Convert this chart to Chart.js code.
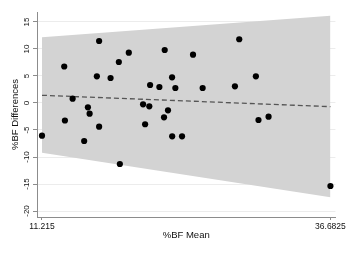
<!DOCTYPE html>
<html><head><meta charset="utf-8">
<script src="https://cdn.jsdelivr.net/npm/chart.js@4/dist/chart.umd.min.js"></script>
<style>html,body{margin:0;padding:0;background:#fff}canvas{display:block}</style>
</head><body>
<canvas id="c" width="348" height="254"></canvas>
<script>
// %BF Mean (x) and %BF Differences (y) of each observation
const meanX = [11.215, 13.18, 13.24, 13.92, 14.94, 15.27, 15.42, 16.06, 16.26, 16.26,
  17.27, 18.00, 18.09, 18.88, 20.14, 20.32, 20.69, 20.76, 21.58, 22.05,
  21.99, 22.34, 22.70, 22.71, 22.99, 23.58, 24.55, 25.40, 28.25, 28.63,
  30.10, 30.33, 31.22, 36.6825];
const diffY = [-6.06, 6.76, -3.24, 0.80, -7.04, -0.80, -1.98, 4.94, 11.48, -4.39,
  4.63, 7.59, -11.30, 9.31, -0.24, -3.94, -0.61, 3.33, 2.96, 9.81,
  -2.65, -1.35, 4.76, -6.17, 2.78, -6.17, 8.94, 2.78, 3.09, 11.80,
  4.94, -3.15, -2.54, -15.37];
// fitted regression line and prediction band at the ends of the x range
const lineX = [11.215, 36.6825];
const fitY = [1.43, -0.68];
const bandUpper = [12.16, 16.17];
const bandLower = [-9.20, -17.46];
// axis ticks
const xTickValues = [11.215, 36.6825];
const xTickLabels = ['11.215', '36.6825'];
const yTickValues = [-20, -15, -10, -5, 0, 5, 10, 15];

const pts = (xs, ys) => xs.map((x, i) => ({x: x, y: ys[i]}));
const FONT = "'Liberation Sans', Arial, Helvetica, sans-serif";
const AXIS = '#8c8c8c';

new Chart(document.getElementById('c'), {
  type: 'scatter',
  data: {
    datasets: [
      { data: pts(meanX, diffY), backgroundColor: '#000', borderColor: '#000',
        pointRadius: 3.1, borderWidth: 0, order: 0 },
      { type: 'line', data: pts(lineX, fitY), borderColor: '#555', borderWidth: 1.3,
        borderDash: [5, 3], pointRadius: 0, fill: false, order: 1 },
      { type: 'line', data: pts(lineX, bandUpper), borderWidth: 0, borderColor: 'rgba(0,0,0,0)',
        backgroundColor: '#d3d3d3', pointRadius: 0, fill: '+1', order: 2 },
      { type: 'line', data: pts(lineX, bandLower), borderWidth: 0, borderColor: 'rgba(0,0,0,0)',
        pointRadius: 0, fill: false, order: 3 }
    ]
  },
  options: {
    responsive: false, animation: false,
    layout: { autoPadding: false, padding: { left: 0, right: 12, top: 12, bottom: 0 } },
    plugins: { legend: { display: false }, tooltip: { enabled: false } },
    scales: {
      x: {
        type: 'linear', min: 10.775, max: 37.123,
        afterFit: s => { s.height = 37; },
        afterBuildTicks: s => { s.ticks = xTickValues.map(v => ({ value: v })); },
        grid: { drawOnChartArea: false, drawTicks: true, tickLength: 3, tickColor: AXIS },
        border: { display: true, color: AXIS, width: 1 },
        ticks: { padding: 2, maxRotation: 0, autoSkip: false, color: '#111',
          font: { family: FONT, size: 8.5 },
          callback: (v) => { const i = xTickValues.indexOf(v); return i >= 0 ? xTickLabels[i] : ''; } },
        title: { display: true, text: '%BF Mean', color: '#111',
          font: { family: FONT, size: 9.5 }, padding: { top: 0, bottom: 12.5 } }
      },
      y: {
        type: 'linear', min: -21.11, max: 16.85,
        afterFit: s => { s.width = 37; },
        afterBuildTicks: s => { s.ticks = yTickValues.map(v => ({ value: v })); },
        grid: { color: '#ececec', drawTicks: true, tickLength: 4, tickColor: AXIS },
        border: { display: true, color: AXIS, width: 1 },
        ticks: { padding: 0, minRotation: 90, maxRotation: 90, crossAlign: 'center',
          autoSkip: false, color: '#111', font: { family: FONT, size: 8 } },
        title: { display: true, text: '%BF Differences', color: '#111',
          font: { family: FONT, size: 9.5 }, padding: { top: 9.3, bottom: 0 } }
      }
    }
  }
});
</script>
</body></html>
